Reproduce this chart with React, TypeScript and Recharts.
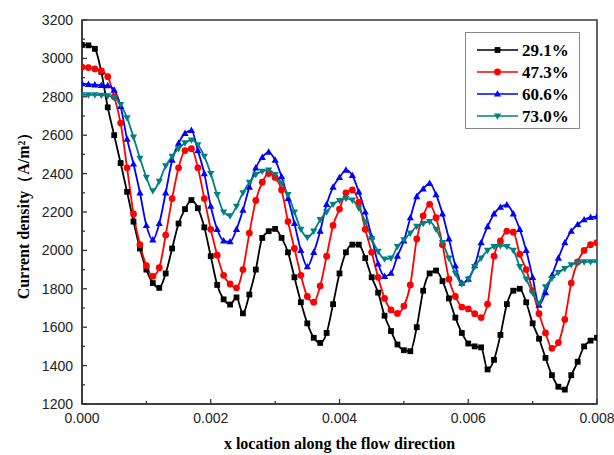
import React from 'react';
import { LineChart, Line, XAxis, YAxis, Legend, ReferenceArea } from 'recharts';

// sampling positions: 0 .. 0.008 in steps of 0.0001 (index i -> i/10000)
const s29 = [3070, 3068, 3050, 2930, 2745, 2600, 2455, 2305, 2150, 2010, 1900, 1830, 1805, 1880, 2010, 2140, 2215, 2262, 2220, 2120,
  1970, 1820, 1745, 1718, 1755, 1672, 1770, 1900, 2065, 2100, 2112, 2065, 1990, 1860, 1730, 1620, 1545, 1518, 1570, 1720,
  1880, 1990, 2030, 2030, 1960, 1860, 1780, 1660, 1580, 1510, 1480, 1475, 1600, 1790, 1880, 1895, 1840, 1750, 1650, 1570,
  1515, 1500, 1495, 1380, 1430, 1560, 1720, 1790, 1800, 1730, 1620, 1540, 1440, 1350, 1290, 1275, 1350, 1420, 1500, 1530, 1545];
const s47 = [2955, 2952, 2945, 2935, 2905, 2800, 2663, 2430, 2190, 2030, 1920, 1865, 1910, 2080, 2270, 2430, 2520, 2530, 2430, 2270,
  2110, 1975, 1870, 1825, 1805, 1900, 2090, 2260, 2355, 2400, 2380, 2315, 2150, 2010, 1870, 1760, 1730, 1815, 1970, 2130,
  2215, 2300, 2315, 2250, 2110, 1990, 1860, 1750, 1690, 1672, 1710, 1820, 2060, 2180, 2240, 2170, 2030, 1850, 1760, 1705,
  1695, 1670, 1650, 1720, 1970, 2050, 2100, 2095, 1980, 1900, 1790, 1670, 1570, 1490, 1520, 1640, 1830, 1940, 2000, 2030, 2040];
const s60 = [2868, 2865, 2862, 2860, 2858, 2835, 2750, 2580, 2450, 2300, 2130, 2055, 2140, 2300, 2470, 2558, 2610, 2625, 2520, 2400,
  2230, 2110, 2050, 2045, 2110, 2210, 2330, 2430, 2485, 2512, 2470, 2384, 2270, 2140, 2000, 1915, 1990, 2100, 2240, 2330,
  2380, 2418, 2390, 2305, 2200, 2070, 1930, 1865, 1881, 1970, 2050, 2170, 2280, 2320, 2349, 2290, 2190, 2060, 1920, 1830,
  1850, 1920, 2040, 2124, 2190, 2225, 2237, 2190, 2110, 2000, 1860, 1715, 1780, 1870, 1960, 2040, 2100, 2135, 2160, 2172, 2176];
const s73 = [2810, 2810, 2810, 2808, 2805, 2795, 2760, 2690, 2590, 2480, 2380, 2310, 2360, 2440, 2490, 2530, 2560, 2575, 2550, 2490,
  2400, 2290, 2200, 2180, 2230, 2300, 2355, 2395, 2412, 2418, 2395, 2350, 2290, 2200, 2110, 2068, 2100, 2160, 2200, 2240,
  2260, 2270, 2262, 2220, 2150, 2060, 1995, 1955, 1960, 2020, 2055, 2090, 2125, 2140, 2150, 2110, 2040, 1960, 1880, 1825,
  1850, 1915, 1960, 2000, 2020, 2025, 2020, 2000, 1915, 1850, 1780, 1725, 1810, 1855, 1885, 1905, 1925, 1935, 1940, 1941, 1941];

const seriesNames = ['29.1%', '47.3%', '60.6%', '73.0%'];
const seriesColors = ['#000000', '#ff0000', '#0000ff', '#008080'];
const seriesKeys = ['a', 'b', 'c', 'd'];
const markerShapes = ['square', 'circle', 'up', 'down'];

const xTicks = [0, 0.001, 0.002, 0.003, 0.004, 0.005, 0.006, 0.007, 0.008];
const xMajor = [0, 0.002, 0.004, 0.006, 0.008];
const yTicks = [1200, 1300, 1400, 1500, 1600, 1700, 1800, 1900, 2000, 2100, 2200, 2300, 2400, 2500, 2600, 2700, 2800, 2900, 3000, 3100, 3200];

const xTitle = 'x location along the flow direction';
const yTitle = 'Current density（A/m²）';

const data = s29.map((v, i) => ({ x: i / 10000, a: v, b: s47[i], c: s60[i], d: s73[i] }));

const AXIS = '#333';
const TICKFONT = '"Liberation Sans", Arial, sans-serif';
const TITLEFONT = '"Liberation Serif", "Times New Roman", serif';

function marker(shape: string, color: string, cx: number, cy: number, key?: any) {
  if (shape === 'square') return <rect key={key} x={cx - 2.9} y={cy - 2.9} width={5.8} height={5.8} fill={color} />;
  if (shape === 'circle') return <circle key={key} cx={cx} cy={cy} r={3.4} fill={color} />;
  if (shape === 'up') return <path key={key} d={`M${cx},${cy - 3.8}L${cx + 3.6},${cy + 2.6}L${cx - 3.6},${cy + 2.6}Z`} fill={color} />;
  return <path key={key} d={`M${cx},${cy + 3.8}L${cx + 3.6},${cy - 2.6}L${cx - 3.6},${cy - 2.6}Z`} fill={color} />;
}

const makeDot = (shape: string, color: string) => (props: any) => {
  const { cx, cy, index } = props;
  if (cx == null || cy == null) return <g key={`e-${index}`} />;
  return marker(shape, color, cx, cy, `m-${index}`);
};

const XTick = (props: any) => {
  const { x, y, payload } = props;
  const v = payload.value;
  const major = xMajor.some((m) => Math.abs(m - v) < 1e-9);
  return (
    <g>
      <line x1={x} x2={x} y1={y} y2={y - (major ? 5 : 3)} stroke={AXIS} strokeWidth={1.3} />
      {major && (
        <text x={x} y={y + 19} textAnchor="middle" fontSize={14} fontFamily={TICKFONT} fill="#222">
          {v.toFixed(3)}
        </text>
      )}
    </g>
  );
};

const YTick = (props: any) => {
  const { x, y, payload } = props;
  const v = payload.value;
  const major = v % 200 === 0;
  return (
    <g>
      <line x1={x} x2={x + (major ? 5 : 3)} y1={y} y2={y} stroke={AXIS} strokeWidth={1.3} />
      {major && (
        <text x={x - 9} y={y + 5} textAnchor="end" fontSize={14} fontFamily={TICKFONT} fill="#222">
          {v}
        </text>
      )}
    </g>
  );
};

const renderLegend = () => (
  <svg width={115} height={97} style={{ display: 'block' }}>
    <rect x={0.5} y={0.5} width={114} height={96} fill="#fff" stroke="#888" strokeWidth={1} />
    {seriesNames.map((n, i) => {
      const cy = 18 + 22 * i;
      return (
        <g key={n}>
          <line x1={12} x2={53} y1={cy} y2={cy} stroke={seriesColors[i]} strokeWidth={1.6} />
          {marker(markerShapes[i], seriesColors[i], 32.5, cy)}
          <text x={57} y={cy + 6} fontSize={17} fontWeight="bold" fontFamily={TITLEFONT} fill="#000">
            {n}
          </text>
        </g>
      );
    })}
  </svg>
);

export default function App() {
  return (
    <div style={{ position: 'absolute', left: 0, top: 0, width: 614, height: 455 }}>
      <LineChart width={614} height={455} data={data} margin={{ top: 20, right: 17, left: 8, bottom: 0 }}>
        <ReferenceArea x1={0} x2={0.008} y1={1200} y2={3200} fill="none" stroke={AXIS} strokeWidth={1.5} ifOverflow="visible" />
        <XAxis
          dataKey="x"
          type="number"
          domain={[0, 0.008]}
          ticks={xTicks}
          interval={0}
          tickSize={0}
          tickMargin={0}
          tick={(p: any) => <XTick {...p} />}
          axisLine={{ stroke: AXIS, strokeWidth: 1.5 }}
          height={51}
          allowDataOverflow
          label={() => (
            <text x={339.5} y={449} textAnchor="middle" fontSize={16} fontWeight="bold" fontFamily={TITLEFONT} fill="#000">
              {xTitle}
            </text>
          )}
        />
        <YAxis
          type="number"
          domain={[1200, 3200]}
          ticks={yTicks}
          interval={0}
          tickSize={0}
          tickMargin={0}
          tick={(p: any) => <YTick {...p} />}
          axisLine={{ stroke: AXIS, strokeWidth: 1.5 }}
          width={74}
          allowDataOverflow
          label={() => (
            <text
              x={23}
              y={212}
              transform="rotate(-90 23 212)"
              textAnchor="middle"
              dominantBaseline="central"
              fontSize={16}
              fontWeight="bold"
              fontFamily={TITLEFONT}
              fill="#000"
            >
              {yTitle}
            </text>
          )}
        />
        {seriesKeys.map((k, i) => (
          <Line
            key={k}
            dataKey={k}
            name={seriesNames[i]}
            type="monotone"
            stroke={seriesColors[i]}
            strokeWidth={1.8}
            dot={makeDot(markerShapes[i], seriesColors[i])}
            activeDot={false}
            isAnimationActive={false}
          />
        ))}
        <Legend
          layout="vertical"
          align="center"
          verticalAlign="middle"
          content={renderLegend}
          wrapperStyle={{ position: 'absolute', left: 465, top: 32, width: 115, height: 97 }}
        />
      </LineChart>
    </div>
  );
}
